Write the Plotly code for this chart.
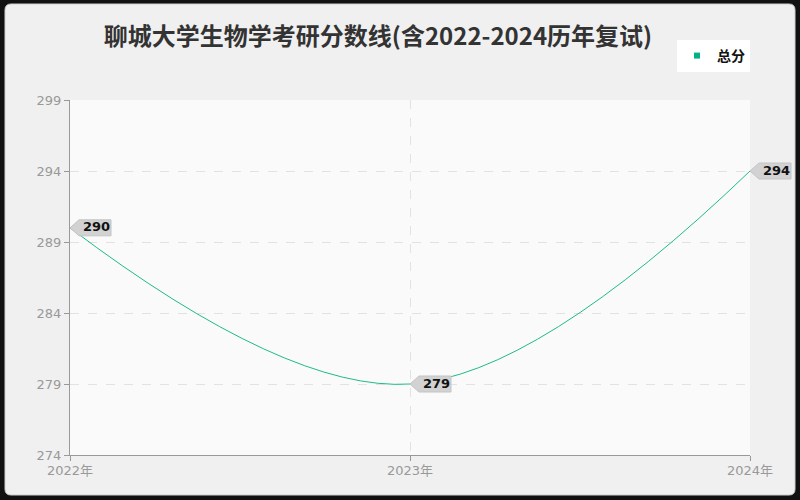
import plotly.graph_objects as go

# datos
anios = [2022, 2023, 2024]
etiquetas_x = ["2022年", "2023年", "2024年"]
total = [290, 279, 294]
ticks_y = [274, 279, 284, 289, 294, 299]
RANGO_X = [2022, 2024]
RANGO_Y = [274, 299]

VERDE = "#1dbb8a"
L, R, T, B = 70, 50, 100, 45   # márgenes en px (área: 70..750, 100..455)
ANCHO_AREA, ALTO_AREA = 800 - L - R, 500 - T - B


def px_x(p):
    return (p - L) / ANCHO_AREA


def px_y(p):
    return (500 - B - p) / ALTO_AREA


fig = go.Figure()

fig.add_trace(go.Scatter(
    x=anios, y=total, name="总分", mode="lines", showlegend=False,
    line=dict(color=VERDE, width=1, shape="spline", smoothing=1.1),
))
# sólo para la leyenda (cuadradito verde)
fig.add_trace(go.Scatter(
    x=[None], y=[None], name="<b>总分</b>", mode="markers",
    marker=dict(symbol="square", size=6, color="#00b386"),
))

# panel gris redondeado sobre fondo oscuro
x0, x1, y0, y1 = px_x(5), px_x(795), px_y(495), px_y(4)
rx, ry = 6 / ANCHO_AREA, 6 / ALTO_AREA
panel = (f"M {x0+rx},{y0} L {x1-rx},{y0} Q {x1},{y0} {x1},{y0+ry} "
         f"L {x1},{y1-ry} Q {x1},{y1} {x1-rx},{y1} L {x0+rx},{y1} "
         f"Q {x0},{y1} {x0},{y1-ry} L {x0},{y0+ry} Q {x0},{y0} {x0+rx},{y0} Z")
formas = [
    dict(type="path", xref="paper", yref="paper", layer="below", path=panel,
         fillcolor="#f0f0f0", line=dict(width=1, color="#cfcfcf")),
    dict(type="rect", xref="paper", yref="paper", layer="below",
         x0=0, x1=1, y0=0, y1=1, fillcolor="#fafafa", line=dict(width=0)),
]

# globos de etiqueta con punta hacia el punto (en coordenadas paper para no recortarse)
for a, v in zip(anios, total):
    ax_p = (a - RANGO_X[0]) / (RANGO_X[1] - RANGO_X[0])
    ay_p = (v - RANGO_Y[0]) / (RANGO_Y[1] - RANGO_Y[0])
    formas.append(dict(
        type="path", xref="paper", yref="paper", xsizemode="pixel", ysizemode="pixel",
        xanchor=ax_p, yanchor=ay_p, layer="above",
        path="M 0,0 L 9,8 L 41,8 L 41,-8 L 9,-8 Z",
        fillcolor="#d2d2d2", line=dict(width=1, color="#c4c4c4"),
    ))
    fig.add_annotation(
        x=a, y=v, text=f"<b>{v}</b>", showarrow=False,
        xanchor="left", xshift=11, yshift=1,
        font=dict(size=13, color="#111", family="DejaVu Sans"),
    )

fig.update_layout(
    width=800, height=500,
    paper_bgcolor="#111111", plot_bgcolor="#fafafa",
    margin=dict(l=L, r=R, t=T, b=B),
    title=dict(text="<b>聊城大学生物学考研分数线(含2022-2024历年复试)</b>",
               x=px_x(378), xref="paper", xanchor="center",
               y=1 - 37 / 500, yanchor="middle",
               font=dict(size=24, color="#333", family="Noto Sans CJK SC")),
    font=dict(family="DejaVu Sans, Noto Sans CJK SC", color="#999"),
    showlegend=True,
    legend=dict(x=1.0, y=px_y(56), xanchor="right", yanchor="middle",
                bgcolor="white", font=dict(size=14, color="#111",
                                           family="Noto Sans CJK SC"),
                itemwidth=30, tracegroupgap=0),
    shapes=formas,
)

fig.update_xaxes(
    range=RANGO_X, tickvals=anios, ticktext=etiquetas_x,
    showline=True, linecolor="#999", ticks="outside", ticklen=5, tickcolor="#999",
    showgrid=True, gridcolor="#e2e2e2", griddash="dash", ticklabelstandoff=-2,
    tickfont=dict(size=13, color="#999"), zeroline=False,
)
fig.update_yaxes(
    range=RANGO_Y, tickvals=ticks_y,
    showline=True, linecolor="#999", ticks="outside", ticklen=5, tickcolor="#999",
    showgrid=True, gridcolor="#e2e2e2", griddash="dash",
    tickfont=dict(size=13, color="#999"), zeroline=False,
)

fig.write_html("out.html", config={"displayModeBar": False},
               post_script="document.body.style.margin='0';"
                           "document.body.style.background='#111';")
